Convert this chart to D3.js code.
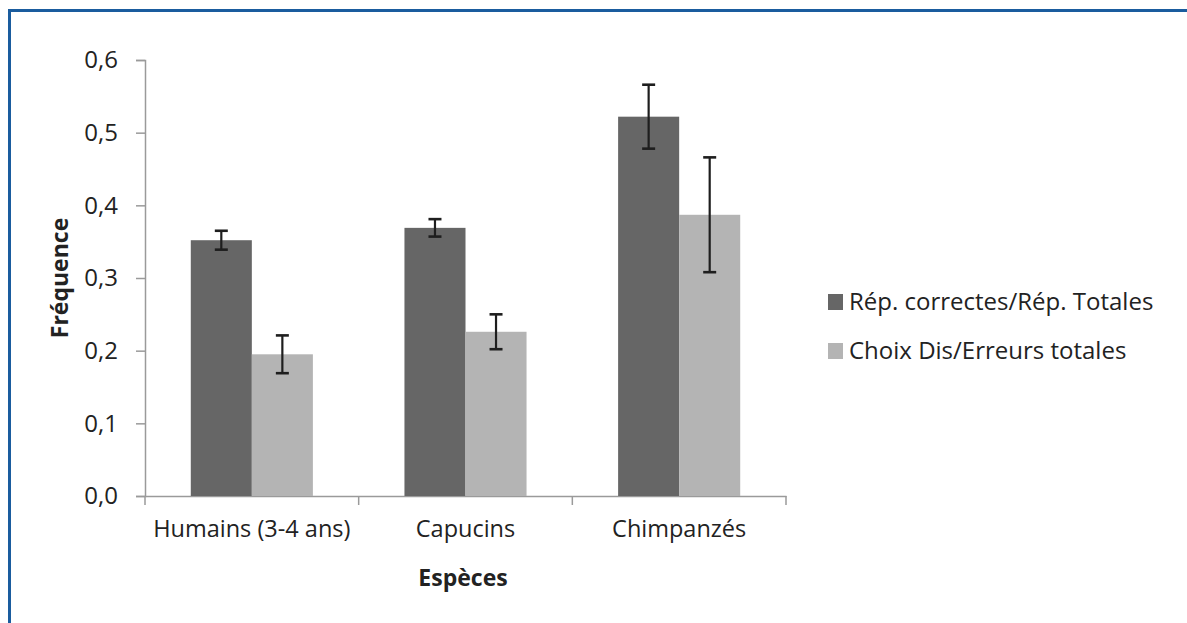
<!DOCTYPE html>
<html>
<head>
<meta charset="utf-8">
<script src="https://cdn.jsdelivr.net/npm/d3@7"></script>
<style>
  body { margin: 0; background: #fff; overflow: hidden; }
  svg { display: block; }
</style>
</head>
<body>
<div id="chart"></div>
<script>
const categories = ["Humains (3-4 ans)", "Capucins", "Chimpanzés"]
const seriesNames = ["Rép. correctes/Rép. Totales", "Choix Dis/Erreurs totales"]
const correctes = [0.352, 0.369, 0.522]
const correctesErr = [0.013, 0.012, 0.044]
const choixDis = [0.195, 0.226, 0.387]
const choixDisErr = [0.026, 0.024, 0.079]
const yTicks = [0, 0.1, 0.2, 0.3, 0.4, 0.5, 0.6]

const width = 1187
const height = 623
const font = "'Open Sans', sans-serif"
const colors = ["#666666", "#b4b4b4"]

const svg = d3.select("#chart")
  .append("svg")
  .attr("width", width)
  .attr("height", height)

// frame (blue lines top and left)
svg.append("rect")
  .attr("x", 9.5).attr("y", 10.5)
  .attr("width", width + 20).attr("height", height + 20)
  .attr("fill", "none")
  .attr("stroke", "#1a5c9e")
  .attr("stroke-width", 3)

const x = d3.scaleBand()
  .domain(categories)
  .range([145, 786])

const inner = d3.scaleBand()
  .domain([0, 1])
  .range([0, x.bandwidth()])
  .paddingInner(0)
  .paddingOuter(0.75)

const y = d3.scaleLinear()
  .domain([0, 0.6])
  .range([496, 60])

const fmt = d => d.toFixed(1).replace(".", ",")

// y axis
const yAxis = svg.append("g")
  .attr("transform", "translate(145,0)")
  .call(d3.axisLeft(y).tickValues(yTicks).tickFormat(fmt).tickSize(9).tickPadding(18))
yAxis.selectAll("line, path").attr("stroke", "#9a9a9a").attr("stroke-width", 1.5)
yAxis.selectAll("text")
  .attr("fill", "#222").attr("font-size", "24px").attr("font-family", font)

// x axis
const xAxis = svg.append("g")
  .attr("transform", "translate(0,496)")
  .call(d3.axisBottom(x).tickSize(0).tickPadding(24))
xAxis.select(".domain").attr("stroke", "#9a9a9a").attr("stroke-width", 1.5)
xAxis.selectAll("text")
  .attr("fill", "#222").attr("font-size", "23.5px").attr("font-family", font)

// category boundary ticks
const bounds = categories.map(c => x(c)).concat([x(categories[2]) + x.bandwidth()])
xAxis.selectAll(".bound")
  .data(bounds)
  .enter().append("line")
  .attr("x1", d => d).attr("x2", d => d)
  .attr("y1", 0).attr("y2", 9)
  .attr("stroke", "#9a9a9a").attr("stroke-width", 1.5)

// bars
const series = [
  { vals: correctes, errs: correctesErr },
  { vals: choixDis, errs: choixDisErr }
]

series.forEach((s, si) => {
  const g = svg.append("g")
  g.selectAll("rect")
    .data(categories)
    .enter().append("rect")
    .attr("x", c => x(c) + inner(si))
    .attr("width", inner.bandwidth())
    .attr("y", (c, i) => y(s.vals[i]))
    .attr("height", (c, i) => y(0) - y(s.vals[i]))
    .attr("fill", colors[si])

  categories.forEach((c, i) => {
    const cx = x(c) + inner(si) + inner.bandwidth() / 2
    const top = y(s.vals[i] + s.errs[i])
    const bot = y(s.vals[i] - s.errs[i])
    g.append("line")
      .attr("x1", cx).attr("x2", cx).attr("y1", top).attr("y2", bot)
      .attr("stroke", "#1e1e1e").attr("stroke-width", 2.2)
    ;[top, bot].forEach(yy => {
      g.append("line")
        .attr("x1", cx - 6.5).attr("x2", cx + 6.5).attr("y1", yy).attr("y2", yy)
        .attr("stroke", "#1e1e1e").attr("stroke-width", 2.6)
    })
  })
})

// axis titles
svg.append("text")
  .attr("x", 463)
  .attr("y", 586)
  .attr("text-anchor", "middle")
  .attr("font-family", font).attr("font-size", "23px").attr("font-weight", "bold")
  .attr("fill", "#222")
  .text("Espèces")

svg.append("text")
  .attr("transform", "translate(68,278) rotate(-90)")
  .attr("text-anchor", "middle")
  .attr("font-family", font).attr("font-size", "23px").attr("font-weight", "bold")
  .attr("fill", "#222")
  .text("Fréquence")

// legend
const legend = svg.append("g").attr("transform", "translate(828,294)")
seriesNames.forEach((name, i) => {
  legend.append("rect")
    .attr("x", 0).attr("y", i * 49)
    .attr("width", 15).attr("height", 16)
    .attr("fill", colors[i])
  legend.append("text")
    .attr("x", 21).attr("y", i * 49 + 16)
    .attr("font-family", font).attr("font-size", "24px")
    .attr("fill", "#222")
    .text(name)
})
</script>
</body>
</html>
